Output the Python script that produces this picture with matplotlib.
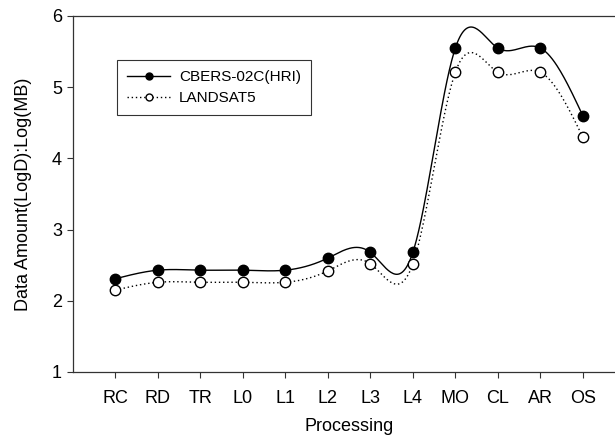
import numpy as np
import matplotlib.pyplot as plt

plt.rcParams['font.family'] = ['Liberation Sans', 'DejaVu Sans']

# Data
steps = ["RC", "RD", "TR", "L0", "L1", "L2", "L3", "L4", "MO", "CL", "AR", "OS"]
cbers = [2.31, 2.43, 2.43, 2.43, 2.43, 2.60, 2.68, 2.68, 5.55, 5.55, 5.55, 4.60]
landsat = [2.15, 2.26, 2.26, 2.26, 2.26, 2.42, 2.52, 2.52, 5.21, 5.21, 5.21, 4.30]


def natural_spline(x, y, n=400):
    # natural cubic spline, like the smoothed line of the original
    x = np.asarray(x, float)
    y = np.asarray(y, float)
    k = len(x)
    h = np.diff(x)
    A = np.zeros((k, k))
    b = np.zeros(k)
    A[0, 0] = A[-1, -1] = 1
    for i in range(1, k - 1):
        A[i, i - 1] = h[i - 1]
        A[i, i] = 2 * (h[i - 1] + h[i])
        A[i, i + 1] = h[i]
        b[i] = 6 * ((y[i + 1] - y[i]) / h[i] - (y[i] - y[i - 1]) / h[i - 1])
    M = np.linalg.solve(A, b)
    xs = np.linspace(x[0], x[-1], n)
    idx = np.clip(np.searchsorted(x, xs) - 1, 0, k - 2)
    x0, x1 = x[idx], x[idx + 1]
    hh = x1 - x0
    ys = (M[idx] * (x1 - xs) ** 3 / (6 * hh) + M[idx + 1] * (xs - x0) ** 3 / (6 * hh)
          + (y[idx] / hh - M[idx] * hh / 6) * (x1 - xs)
          + (y[idx + 1] / hh - M[idx + 1] * hh / 6) * (xs - x0))
    return xs, ys


xpos = np.arange(len(steps))

fig = plt.figure(figsize=(6.15, 4.38), dpi=100)
ax = fig.add_axes([0.1187, 0.1507, 0.898, 0.8128])

xs, ys = natural_spline(xpos, cbers)
ax.plot(xs, ys, color="black", lw=1.0)
xs, ys = natural_spline(xpos, landsat)
ax.plot(xs, ys, color="black", lw=1.0, linestyle=(0, (1, 2)))

ax.plot(xpos, cbers, "o", color="black", markersize=7.5)
ax.plot(xpos, landsat, "o", markerfacecolor="white", markeredgecolor="black",
        markersize=7.5, markeredgewidth=1.0)

# legend handles (smaller markers, as in the original)
h1, = ax.plot([], [], "-o", color="black", markersize=5, lw=1.0)
h2, = ax.plot([], [], "o", linestyle=(0, (1, 2)), color="black",
              markerfacecolor="white", markersize=5, lw=1.0)
leg = ax.legend([h1, h2], ["CBERS-02C(HRI)", "LANDSAT5"], loc="upper left",
                bbox_to_anchor=(0.08, 0.876), fontsize=11, frameon=True,
                fancybox=False, edgecolor="black", handlelength=2.8,
                borderpad=0.65, labelspacing=0.45, handletextpad=0.6,
                borderaxespad=0)
leg.get_frame().set_linewidth(0.8)

ax.set_xlim(-1, 12)
ax.set_ylim(1, 6)
ax.set_xticks(xpos)
ax.set_xticklabels(steps)
ax.set_yticks([1, 2, 3, 4, 5, 6])
ax.tick_params(labelsize=13, direction="out", length=4, width=0.8, color="#333333")
ax.tick_params(axis="x", pad=9)
ax.tick_params(axis="y", pad=4)
for s in ax.spines.values():
    s.set_linewidth(0.9)
    s.set_color("#333333")

ax.set_xlabel("Processing", fontsize=13, labelpad=8)
ax.set_ylabel("Data Amount(LogD):Log(MB)", fontsize=13, labelpad=14)

fig.savefig("out.png", dpi=100)
